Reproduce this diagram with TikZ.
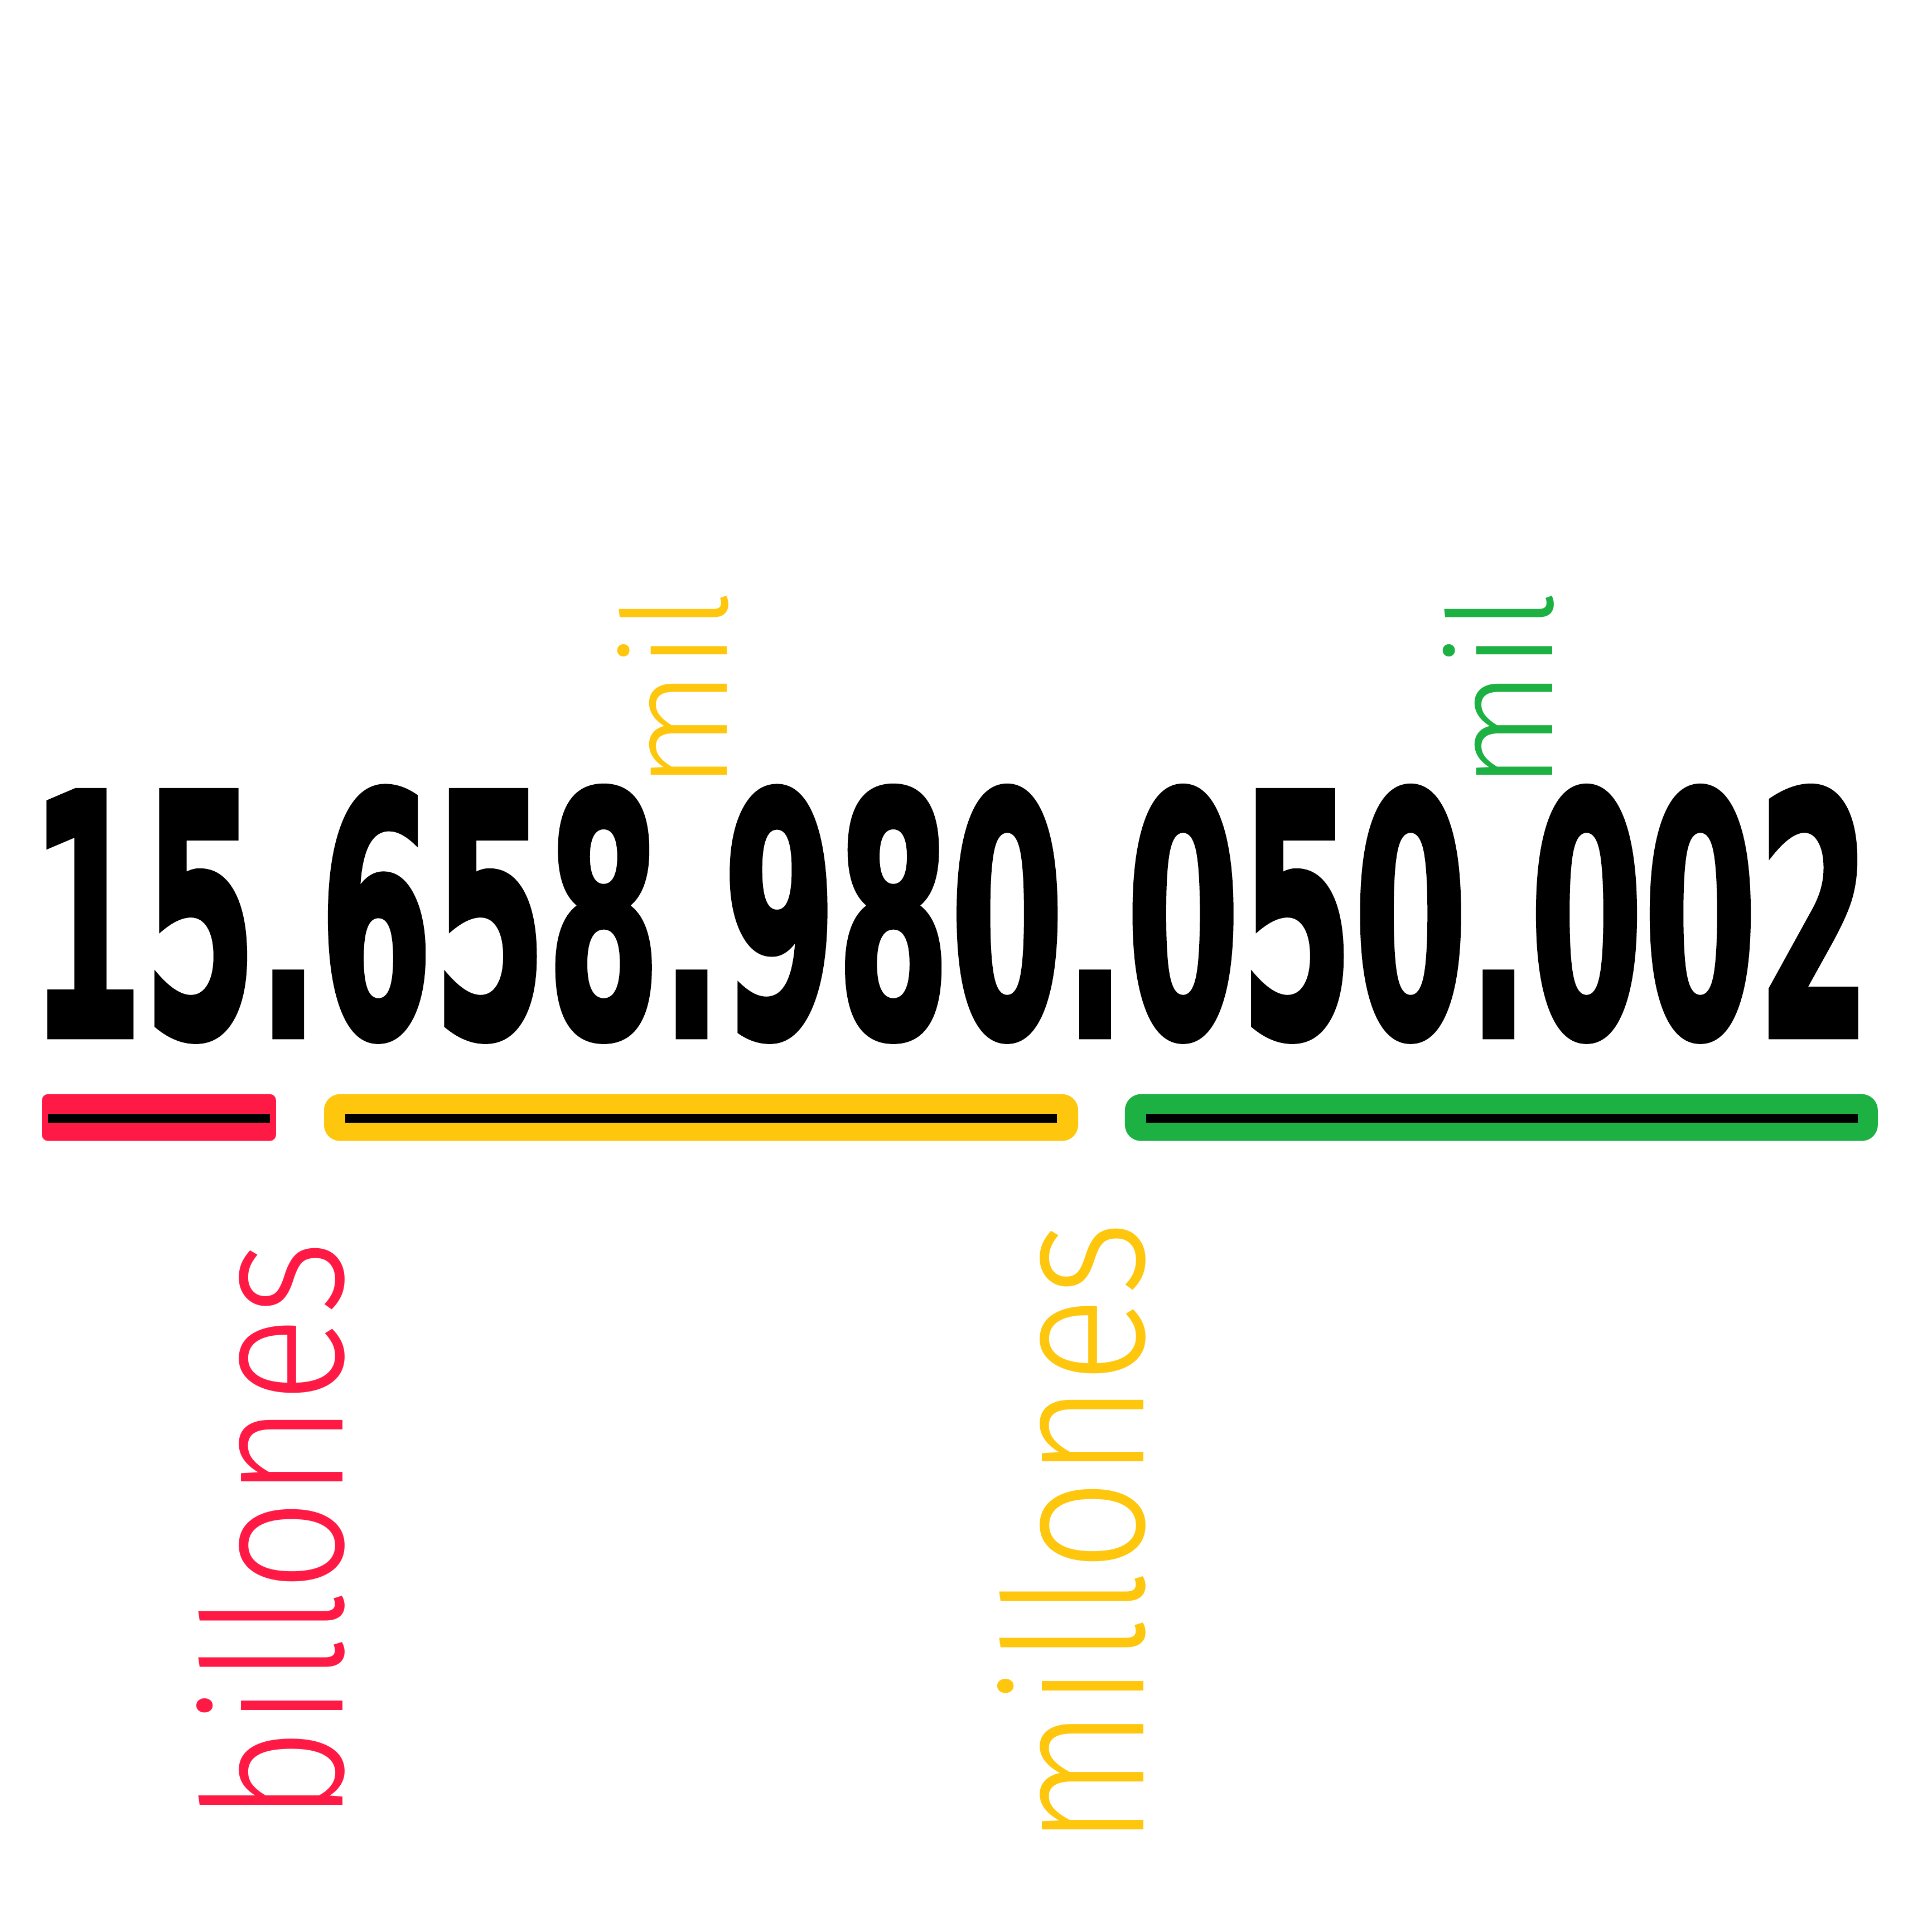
\documentclass[tikz,border=0pt]{standalone}
\usepackage{fontspec}
\newfontfamily\numfont{DejaVu Sans Bold}[FakeBold=1.8]
\newfontfamily\labfont{Fira Sans Light}
\definecolor{cred}{HTML}{FF1A45}
\definecolor{cyel}{HTML}{FEC60C}
\definecolor{cgrn}{HTML}{1DB042}
\begin{document}
\begin{tikzpicture}[x=0.1mm,y=0.1mm,
  numtxt/.style={inner sep=0, anchor=base, xscale=0.486,
    font=\numfont\fontsize{27.3mm}{30mm}\selectfont},
  labbig/.style={inner sep=0, anchor=base, rotate=90, xscale=0.84,
    font=\labfont\fontsize{15.75mm}{17mm}\selectfont},
  labsmall/.style={inner sep=0, anchor=base, rotate=90, xscale=0.97,
    font=\labfont\fontsize{11.8mm}{13mm}\selectfont},
  barline/.style={fill=black}]
\useasboundingbox (0,0) rectangle (1568,1568);
\fill[white] (0,0) rectangle (1568,1568);

% the number
\node[numtxt] (number) at (771,727) {15.658.980.050.002};

% bars
\fill[cred, rounded corners=0.5mm] (34,642) rectangle (224,680);
\fill[barline] (39,657) rectangle (219,664);
\fill[cyel, rounded corners=1.3mm] (263,642) rectangle (875,680);
\fill[barline] (280,657) rectangle (858,664);
\fill[cgrn, rounded corners=1.3mm] (913,642) rectangle (1524,680);
\fill[barline] (930,657) rectangle (1508,664);

% labels
\node[labbig, text=cred] (billones) at (278,325) {billones};
\node[labbig, text=cyel] (millones) at (928,323) {millones};
\node[labsmall, text=cyel] (milA) at (590,1007.5) {mil};
\node[labsmall, text=cgrn] (milB) at (1260,1007.5) {mil};
\end{tikzpicture}
\end{document}
